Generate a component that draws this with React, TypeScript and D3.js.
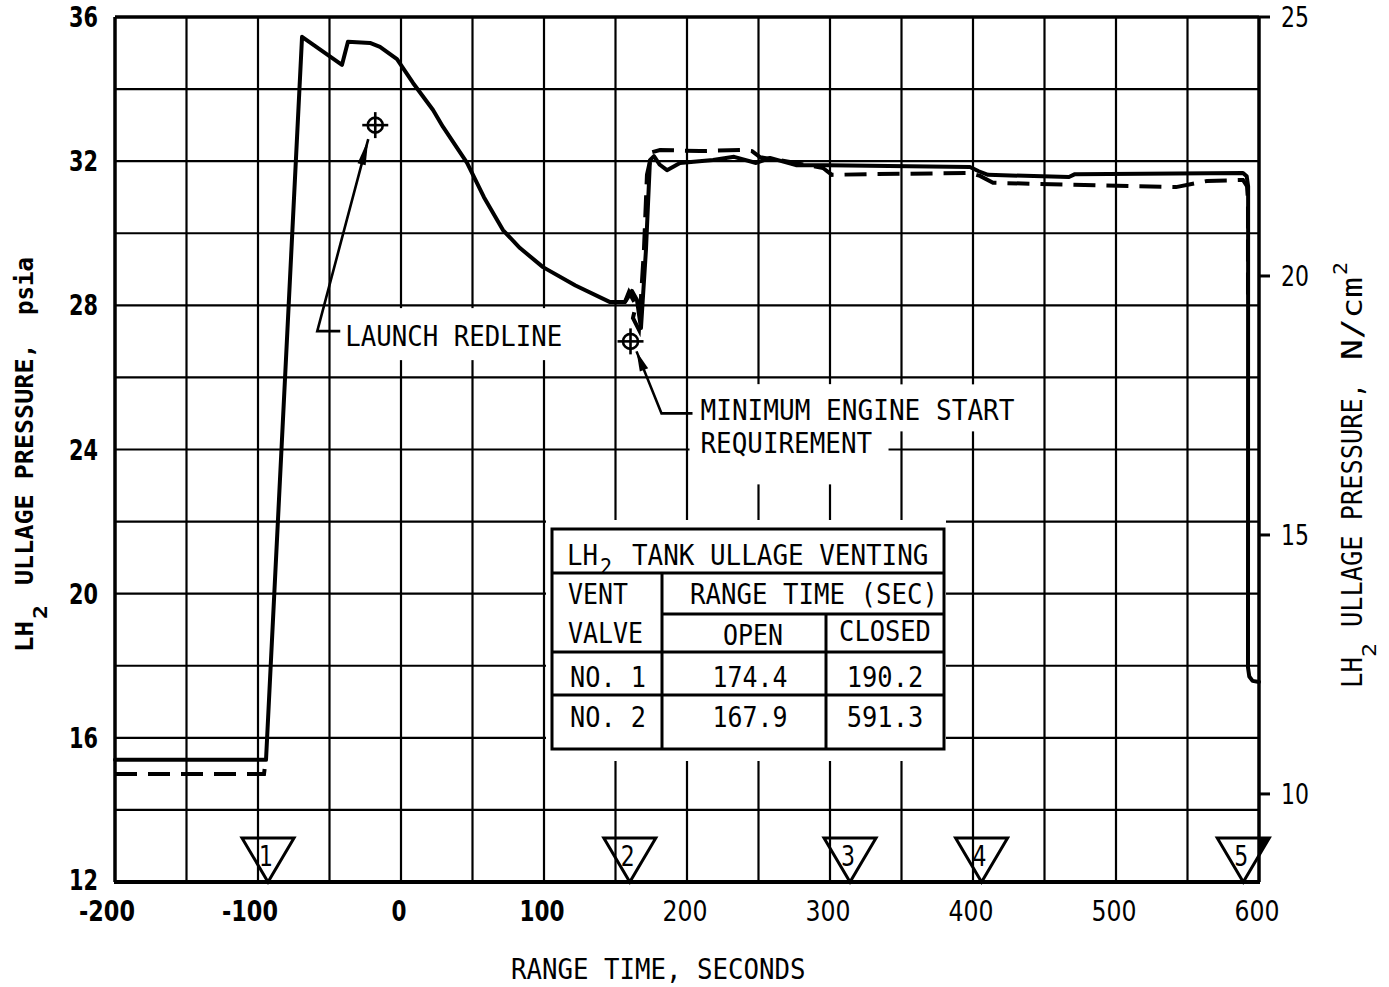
import React from "react";
import * as d3 from "d3";

const MONO = "'DejaVu Sans Mono', 'Liberation Mono', monospace";
const SANS = "'DejaVu Sans', 'Liberation Sans', sans-serif";

// Solid trace: range time (s) and LH2 ullage pressure (psia)
const solidTime = [
  -200, -94.4, -69.2, -41.3, -37.1, -21.7, -14.7, -2.8, 8.4, 22.4, 29.4, 46.2, 58.0, 71.3,
  83.2, 99.3, 122.0, 146.2, 156.6, 161.5, 165.0, 167.8, 171.3, 174.1, 176.9, 181.0, 186.0,
  195.1, 218.2, 232.9, 248.3, 258.0, 276.2, 298.6, 397.9, 404.0, 410.5, 467.1, 471.3,
  588.8, 591.4, 592.4, 592.3, 593.2, 595.5, 600,
];
const solidPsia = [
  15.39, 15.39, 35.45, 34.67, 35.31, 35.28, 35.17, 34.83, 34.17, 33.42, 32.95, 31.95, 31.0,
  30.09, 29.59, 29.06, 28.55, 28.09, 28.09, 28.4, 28.15, 27.37, 29.54, 32.03, 32.14, 31.9,
  31.75, 31.95, 32.03, 32.12, 31.95, 32.09, 31.89, 31.89, 31.84, 31.72, 31.62, 31.56, 31.64,
  31.67, 31.58, 31.3, 17.95, 17.7, 17.58, 17.55,
];

// Dashed trace; NaN separates the prepressurization segment from the flight segment
const dashTime = [
  -200, -95.8, -95.1, NaN,
  156.6, 159.4, 164.3, 162.2, 166.4, 169.9, 172.0, 175.5, 181.1, 209.1, 238.5, 245.5,
  251.0, 272.0, 295.1, 301.4, 328.0, 397.9, 404.9, 414.0, 542.0, 563.6, 588.8, 591.6,
  592.3, 592.3,
];
const dashPsia = [
  15.0, 15.0, 15.22, NaN,
  28.09, 28.37, 28.01, 27.65, 27.32, 29.54, 31.62, 32.25, 32.31, 32.28, 32.31, 32.28,
  32.11, 31.98, 31.81, 31.62, 31.64, 31.67, 31.59, 31.4, 31.28, 31.45, 31.48, 31.31,
  30.92, 28.15,
];

const eventTimes = [-93, 160, 314, 406, 589];
const eventIds = ["1", "2", "3", "4", "5"];

const timeTicks = [-200, -100, 0, 100, 200, 300, 400, 500, 600];
const psiaTicks = [12, 16, 20, 24, 28, 32, 36];
const siTicks = [10, 15, 20, 25];
const gridTimes = d3.range(-150, 600, 50);
const gridPsia = d3.range(14, 36, 2);

const launchRedline: [number, number] = [-18, 33];
const minEngineStart: [number, number] = [160.5, 27];

const ventValves = ["NO. 1", "NO. 2"];
const ventOpen = ["174.4", "167.9"];
const ventClosed = ["190.2", "591.3"];

type TProps = {
  x: number;
  y: number;
  s: string;
  size?: number;
  adv?: number;
  len?: number;
  weight?: string;
  anchor?: "start" | "middle" | "end";
  family?: string;
};

function T({ x, y, s, size = 28, adv, len, weight = "normal", anchor = "start", family = MONO }: TProps) {
  const L = len ?? (adv ? s.length * adv : undefined);
  return (
    <text
      x={x}
      y={y}
      fontFamily={family}
      fontSize={size}
      fontWeight={weight}
      textAnchor={anchor}
      textLength={L}
      lengthAdjust="spacingAndGlyphs"
      fill="#000"
      style={{ whiteSpace: "pre" }}
    >
      {s}
    </text>
  );
}

function Target({ cx, cy }: { cx: number; cy: number }) {
  return (
    <g stroke="#000" strokeWidth={2.6} fill="none">
      <circle cx={cx} cy={cy} r={7.5} />
      <line x1={cx - 13} x2={cx + 13} y1={cy} y2={cy} />
      <line x1={cx} x2={cx} y1={cy - 13} y2={cy + 13} />
    </g>
  );
}

function arrowHead(from: [number, number], tip: [number, number], len: number, hw: number) {
  const dx = tip[0] - from[0];
  const dy = tip[1] - from[1];
  const d = Math.hypot(dx, dy);
  const ux = dx / d, uy = dy / d;
  const bx = tip[0] - ux * len, by = tip[1] - uy * len;
  return `M${tip[0]},${tip[1]}L${bx - uy * hw},${by + ux * hw}L${bx + uy * hw},${by - ux * hw}Z`;
}

export default function App() {
  const W = 1389, H = 987;
  const x = d3.scaleLinear().domain([-200, 600]).range([115, 1259]);
  const y = d3.scaleLinear().domain([12, 36]).range([882, 17]);
  const ySI = d3.scaleLinear().domain([8.3, 25]).range([882, 17]);
  const [x0, x1] = x.range();
  const [yb, yt] = y.range();

  const line = d3
    .line<[number, number]>()
    .defined((d) => !isNaN(d[0]))
    .x((d) => x(d[0]))
    .y((d) => y(d[1]))
    .curve(d3.curveLinear);

  const solidPts = solidTime.map((t, i) => [t, solidPsia[i]] as [number, number]);
  const dashPts = dashTime.map((t, i) => [t, dashPsia[i]] as [number, number]);

  // annotation anchors
  const rx = x(launchRedline[0]), ry = y(launchRedline[1]);
  const rTip: [number, number] = [rx - 7, ry + 14];
  const rCorner: [number, number] = [rx - 58, ry + 206];
  const rEnd: [number, number] = [rx - 35, ry + 206];
  const rText = { x: rx - 30, y: ry + 221 };

  const ex = x(minEngineStart[0]), ey = y(minEngineStart[1]);
  const eTip: [number, number] = [ex + 6, ey + 10];
  const eCorner: [number, number] = [ex + 31, ey + 72];
  const eEnd: [number, number] = [ex + 62, ey + 72];
  const eText = { x: ex + 70, y: ey + 79 };

  // inset table frame
  const tb = { l: 552, r: 944, t: 529, b: 749, c1: 662, c2: 826, r1: 573, r2: 614, r3: 652, r4: 695 };
  const colOpen = (tb.c1 + tb.c2) / 2 + 9;
  const colClosed = (tb.c2 + tb.r) / 2;
  const rowBase = [687, 727];

  const triW = 26, triH = 44;

  return (
    <svg width={W} height={H} style={{ position: "absolute", left: 0, top: 0 }}>
      <rect width={W} height={H} fill="#fff" />

      {/* grid */}
      <g stroke="#000" strokeWidth={2.2}>
        {gridTimes.map((t) => (
          <line key={"v" + t} x1={x(t)} x2={x(t)} y1={yt} y2={yb} />
        ))}
        {gridPsia.map((p) => (
          <line key={"h" + p} x1={x0} x2={x1} y1={y(p)} y2={y(p)} />
        ))}
      </g>

      {/* cleared areas behind lettering and the table */}
      <g fill="#fff">
        <rect x={rText.x - 5} y={rText.y - 38} width={226} height={52} />
        <rect x={eText.x - 11} y={eText.y - 36} width={333} height={47} />
        <rect x={eText.x - 11} y={eText.y - 36} width={199} height={100} />
        <rect x={tb.l - 6} y={tb.t - 9} width={tb.r - tb.l + 8} height={tb.b - tb.t + 21} />
      </g>

      {/* frame */}
      <g stroke="#000" strokeWidth={3.5} fill="none">
        <line x1={x0} x2={x1} y1={yt} y2={yt} />
        <line x1={x0} x2={x0} y1={yt} y2={yb} />
        <line x1={x1} x2={x1} y1={yt} y2={yb} />
        <line x1={x0 - 1} x2={x1 + 1} y1={yb} y2={yb} strokeWidth={4} />
      </g>

      {/* right axis ticks */}
      <g stroke="#000" strokeWidth={3}>
        {siTicks.map((v) => (
          <line key={v} x1={x1} x2={x1 + 11} y1={ySI(v)} y2={ySI(v)} />
        ))}
      </g>

      {/* traces */}
      <path d={line(dashPts) || ""} fill="none" stroke="#000" strokeWidth={4} strokeDasharray="22 11" />
      <path d={line(solidPts) || ""} fill="none" stroke="#000" strokeWidth={4} strokeLinejoin="round" strokeLinecap="round" />

      {/* requirement markers with leaders */}
      <Target cx={rx} cy={ry} />
      <polyline
        points={[rEnd, rCorner, rTip].map((p) => p.join(",")).join(" ")}
        fill="none"
        stroke="#000"
        strokeWidth={2.6}
      />
      <path d={arrowHead(rCorner, rTip, 26, 4.2)} fill="#000" />
      <T x={rText.x} y={rText.y} s="LAUNCH REDLINE" adv={15.5} />

      <Target cx={ex} cy={ey} />
      <polyline
        points={[eEnd, eCorner, eTip].map((p) => p.join(",")).join(" ")}
        fill="none"
        stroke="#000"
        strokeWidth={2.6}
      />
      <path d={arrowHead(eCorner, eTip, 20, 4.5)} fill="#000" />
      <T x={eText.x} y={eText.y} s="MINIMUM ENGINE START" adv={15.7} />
      <T x={eText.x} y={eText.y + 33} s="REQUIREMENT" adv={15.6} />

      {/* vent table */}
      <g stroke="#000" strokeWidth={3} fill="none">
        <rect x={tb.l} y={tb.t} width={tb.r - tb.l} height={tb.b - tb.t} />
        <line x1={tb.l} x2={tb.r} y1={tb.r1} y2={tb.r1} />
        <line x1={tb.c1} x2={tb.c1} y1={tb.r1} y2={tb.b} />
        <line x1={tb.c1} x2={tb.r} y1={tb.r2} y2={tb.r2} />
        <line x1={tb.c2} x2={tb.c2} y1={tb.r2} y2={tb.b} />
        <line x1={tb.l} x2={tb.r} y1={tb.r3} y2={tb.r3} />
        <line x1={tb.l} x2={tb.r} y1={tb.r4} y2={tb.r4} />
      </g>
      <T x={567} y={565} s="LH" adv={15.5} />
      <T x={600} y={574} s="2" size={22} adv={12} />
      <T x={632} y={565} s="TANK ULLAGE VENTING" adv={15.6} />
      <T x={568} y={604} s="VENT" adv={15} />
      <T x={690} y={604} s="RANGE TIME (SEC)" adv={15.5} />
      <T x={568} y={643} s="VALVE" adv={15} />
      <T x={colOpen} y={645} s="OPEN" adv={15} anchor="middle" />
      <T x={colClosed} y={641} s="CLOSED" adv={15.3} anchor="middle" />
      {ventValves.map((v, i) => (
        <g key={v}>
          <T x={570} y={rowBase[i]} s={v} adv={15.2} />
          <T x={colOpen - 3} y={rowBase[i]} s={ventOpen[i]} adv={15} anchor="middle" />
          <T x={colClosed} y={rowBase[i]} s={ventClosed[i]} adv={15.3} anchor="middle" />
        </g>
      ))}

      {/* event markers */}
      {eventTimes.map((t, i) => {
        const cx = x(t);
        const top = yb - triH;
        const over = cx + triW - x1;
        return (
          <g key={"e" + i}>
            <path
              d={`M${cx - triW},${top}L${cx + triW},${top}L${cx},${yb}Z`}
              fill="none"
              stroke="#000"
              strokeWidth={3}
              strokeLinejoin="miter"
            />
            {over > 0 && (
              <path d={`M${x1},${top}L${cx + triW},${top}L${x1},${top + (over / triW) * triH}Z`} fill="#000" />
            )}
            <T x={cx - 2} y={top + 28} s={eventIds[i]} size={28} len={14} anchor="middle" family={SANS} />
          </g>
        );
      })}

      {/* left axis labels */}
      {psiaTicks.map((p) => (
        <T key={p} x={98} y={y(p) + (p === 12 ? 8 : 10)} s={String(p)} size={28} len={29} weight="bold" anchor="end" family={SANS} />
      ))}

      {/* right axis labels */}
      {siTicks.map((v) => (
        <T key={v} x={1281} y={ySI(v) + 10} s={String(v)} size={28} len={28} anchor="start" family={SANS} />
      ))}

      {/* bottom axis labels */}
      {timeTicks.map((t) => {
        const digits = String(Math.abs(t)).length;
        const len = digits * 15 + (t < 0 ? 11 : 0);
        return (
          <T
            key={t}
            x={x(t) - (t < 0 ? 6 : 0) - 2}
            y={921}
            s={String(t)}
            size={28}
            len={len}
            weight={t <= 100 ? "bold" : "normal"}
            anchor="middle"
            family={SANS}
          />
        );
      })}

      {/* axis titles */}
      <T x={511} y={979} s="RANGE TIME, SECONDS" adv={15.5} />

      <g transform="translate(33,652) rotate(-90)">
        <T x={0} y={0} s="LH" size={24} adv={15.5} weight="bold" />
        <T x={33} y={14} s="2" size={20} adv={14} weight="bold" />
        <T x={67} y={0} s="ULLAGE PRESSURE," size={24} adv={15.1} weight="bold" />
        <T x={337} y={0} s="psia" size={24} adv={14.5} weight="bold" />
      </g>

      <g transform="translate(1362,688) rotate(-90)">
        <T x={0} y={0} s="LH" adv={15.5} />
        <T x={31} y={14} s="2" size={20} adv={14} />
        <T x={61} y={0} s="ULLAGE PRESSURE," adv={15.25} />
        <T x={328} y={0} s="N/cm" len={83} />
        <T x={413} y={-15} s="2" size={20} adv={13} />
      </g>
    </svg>
  );
}
